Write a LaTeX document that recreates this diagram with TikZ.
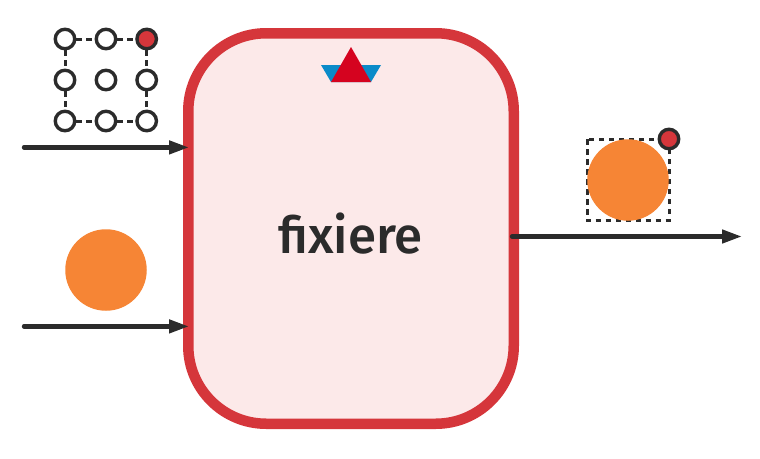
\documentclass[tikz,border=0pt]{standalone}
\usepackage{fontspec}
\setmainfont{Fira Sans}
\newfontfamily\labelfont{Fira Sans Medium}
\usetikzlibrary{arrows.meta}
\definecolor{ink}{HTML}{2B2B2B}
\definecolor{boxred}{HTML}{D5363B}
\definecolor{boxfill}{HTML}{FCE9E9}
\definecolor{tri}{HTML}{D5031F}
\definecolor{trap}{HTML}{0A8BC9}
\definecolor{orangec}{HTML}{F68535}
\tikzset{
  x=1pt,y=-1pt,
  mainbox/.style={draw=boxred,fill=boxfill,line width=10.5pt,rounded corners=78pt,minimum width=325.5pt,minimum height=390.5pt,inner sep=0pt},
  gridpt/.style={circle,draw=ink,fill=white,line width=3.4pt,minimum size=19.5pt,inner sep=0pt},
  redpt/.style={gridpt,fill=boxred},
  dashline/.style={draw=ink,line width=3pt,dash pattern=on 5.5pt off 4.5pt},
  flow/.style={draw=ink,line width=4.4pt,line cap=round,-{Triangle[length=20pt,width=13pt]}},
  ball/.style={circle,fill=orangec,inner sep=0pt,minimum size=81.5pt},
}
\begin{document}
\begin{tikzpicture}
\useasboundingbox (0,0) rectangle (760,458);
\node[mainbox] (box) at (351,228.5) {};
\node[anchor=base,text=ink,font=\labelfont\fontsize{51pt}{51pt}\selectfont] (label) at (350.7,253) {fixiere};
% boat icon
\coordinate (tl) at (321,65);
\coordinate (tr) at (381,65);
\coordinate (bl) at (331,82);
\coordinate (br) at (371,82);
\coordinate (ap) at (351,47);
\fill[trap] (tl) -- (tr) -- (br) -- (bl) -- cycle;
\fill[tri] (ap) -- (br) -- (bl) -- cycle;
% grid
\node[gridpt] (g11) at (65,39) {};
\node[gridpt] (g12) at (106,39) {};
\node[redpt] (g13) at (146.7,39) {};
\node[gridpt] (g21) at (65,80) {};
\node[gridpt] (g22) at (106,80) {};
\node[gridpt] (g23) at (146.7,80) {};
\node[gridpt] (g31) at (65,121) {};
\node[gridpt] (g32) at (106,121) {};
\node[gridpt] (g33) at (146.7,121) {};
\draw[dashline] (g11) -- (g12);
\draw[dashline] (g12) -- (g13);
\draw[dashline] (g31) -- (g32);
\draw[dashline] (g32) -- (g33);
\draw[dashline] (g11) -- (g21);
\draw[dashline] (g21) -- (g31);
\draw[dashline] (g13) -- (g23);
\draw[dashline] (g23) -- (g33);
% balls
\coordinate (r1) at (587,139);
\coordinate (r2) at (669,220.5);
\draw[dashline] (r1) rectangle (r2);
\node[ball] (ballA) at (106,270) {};
\node[ball] (ballB) at (628,180) {};
\node[redpt] (handle) at (669,139) {};
% arrows
\coordinate (a1s) at (24,147.4);
\coordinate (a1e) at (189,147.4);
\coordinate (a2s) at (24,326.4);
\coordinate (a2e) at (189,326.4);
\coordinate (a3s) at (512,236.5);
\coordinate (a3e) at (742,236.5);
\draw[flow] (a1s) -- (a1e);
\draw[flow] (a2s) -- (a2e);
\draw[flow] (a3s) -- (a3e);
\end{tikzpicture}
\end{document}
